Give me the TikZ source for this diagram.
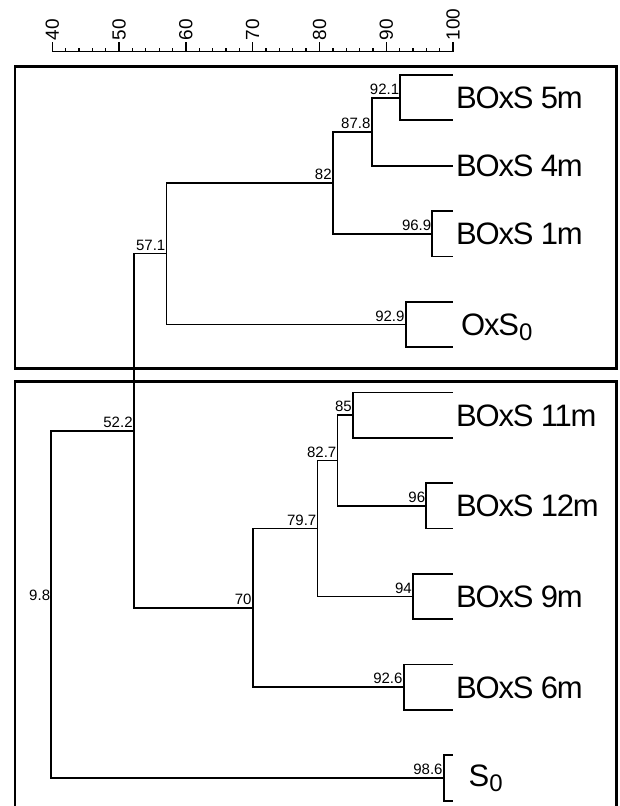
\documentclass[tikz,border=0pt]{standalone}
\usepackage{fontspec}
\setmainfont{Liberation Sans}
\newfontfamily\labfont[LetterSpace=-4]{Liberation Sans}
\newcommand\vx[1]{52.3+(#1-40)*6.68}
\begin{document}
\begin{tikzpicture}[x=1pt,y=-1pt,
  tree/.style={line width=1.8pt},
  frame/.style={line width=2.8pt},
  ruler/.style={line width=1.3pt},
  val/.style={font=\fontsize{15}{15}\selectfont, anchor=south east, inner sep=1pt, yshift=2pt},
  leaflab/.style={font=\labfont\fontsize{31}{32}\selectfont, anchor=base west, inner sep=0pt, yshift=-11pt},
  ticklab/.style={font=\fontsize{19}{19}\selectfont, rotate=90, anchor=west, inner sep=0pt}]
\clip (0,0) rectangle (619,806);
\fill[white] (0,0) rectangle (619,806);
% ruler
\draw[ruler] ({\vx{40}},51.7) -- ({\vx{100}},51.7);
\foreach \v in {42,44,...,98} {\draw[ruler] ({\vx{\v}},51.7) -- ++(0,-4);}
\foreach \v in {40,50,...,100} {
  \draw[ruler] ({\vx{\v}},51.7) -- ++(0,-10);
  \node[ticklab] at ({\vx{\v}},40.5) {\v};
}
% frames
\draw[frame] (15,66.7) rectangle (616.7,368.3);
\draw[frame] (15,381.7) rectangle (616.7,830);
% leaves
\coordinate (l0) at (453.1,75);
\coordinate (l1) at (453.1,120.35);
\coordinate (l2) at (453.1,165.7);
\coordinate (l3) at (453.1,211.05);
\coordinate (l4) at (453.1,256.4);
\coordinate (l5) at (453.1,301.75);
\coordinate (l6) at (453.1,347.1);
\coordinate (l7) at (453.1,392.45);
\coordinate (l8) at (453.1,437.8);
\coordinate (l9) at (453.1,483.15);
\coordinate (l10) at (453.1,528.5);
\coordinate (l11) at (453.1,573.85);
\coordinate (l12) at (453.1,619.2);
\coordinate (l13) at (453.1,664.55);
\coordinate (l14) at (453.1,709.9);
\coordinate (l15) at (453.1,755.25);
\coordinate (l16) at (453.1,800.6);
% internal nodes
\coordinate (n921) at ({\vx{92.1}},97.675);
\coordinate (n878) at ({\vx{87.8}},131.69);
\coordinate (n969) at ({\vx{96.9}},233.725);
\coordinate (n82) at ({\vx{82}},182.71);
\coordinate (n929) at ({\vx{92.9}},324.425);
\coordinate (n571) at ({\vx{57.1}},253.57);
\coordinate (n85) at ({\vx{85}},415.125);
\coordinate (n96) at ({\vx{96}},505.825);
\coordinate (n827) at ({\vx{82.7}},460.475);
\coordinate (n94) at ({\vx{94}},596.525);
\coordinate (n797) at ({\vx{79.7}},528.5);
\coordinate (n926) at ({\vx{92.6}},687.225);
\coordinate (n70) at ({\vx{70}},607.86);
\coordinate (n522) at ({\vx{52.2}},430.72);
\coordinate (n986) at ({\vx{98.6}},777.925);
\coordinate (n98) at (51.3,604.32);
% branches
\draw[tree] (n921) |- (l0);  \draw[tree] (n921) |- (l1);
\draw[tree] (n878) |- (n921); \draw[tree] (n878) |- (l2);
\draw[tree] (n969) |- (l3);  \draw[tree] (n969) |- (l4);
\draw[tree] (n82) |- (n878); \draw[tree] (n82) |- (n969);
\draw[tree] (n929) |- (l5);  \draw[tree] (n929) |- (l6);
\draw[tree] (n571) |- (n82); \draw[tree] (n571) |- (n929);
\draw[tree] (n85) |- (l7);   \draw[tree] (n85) |- (l8);
\draw[tree] (n96) |- (l9);   \draw[tree] (n96) |- (l10);
\draw[tree] (n827) |- (n85); \draw[tree] (n827) |- (n96);
\draw[tree] (n94) |- (l11);  \draw[tree] (n94) |- (l12);
\draw[tree] (n797) |- (n827); \draw[tree] (n797) |- (n94);
\draw[tree] (n926) |- (l13); \draw[tree] (n926) |- (l14);
\draw[tree] (n70) |- (n797); \draw[tree] (n70) |- (n926);
\draw[tree] (n522) |- (n571); \draw[tree] (n522) |- (n70);
\draw[tree] (n986) |- (l15); \draw[tree] (n986) |- (l16);
\draw[tree] (n98) |- (n522); \draw[tree] (n98) |- (n986);
% values
\node[val] (t921) at (n921) {92.1};
\node[val] (t878) at (n878) {87.8};
\node[val] (t82) at (n82) {82};
\node[val] (t969) at (n969) {96.9};
\node[val] (t571) at (n571) {57.1};
\node[val] (t929) at (n929) {92.9};
\node[val] (t85) at (n85) {85};
\node[val] (t827) at (n827) {82.7};
\node[val] (t96) at (n96) {96};
\node[val] (t797) at (n797) {79.7};
\node[val] (t94) at (n94) {94};
\node[val] (t70) at (n70) {70};
\node[val] (t926) at (n926) {92.6};
\node[val] (t522) at (n522) {52.2};
\node[val] (t986) at (n986) {98.6};
\node[val] (t98) at (n98) {9.8};
% leaf labels
\node[leaflab] (a5) at (456,97.675) {BOxS 5m};
\node[leaflab] (a4) at (456,165.7) {BOxS 4m};
\node[leaflab] (a1) at (456,233.725) {BOxS 1m};
\node[leaflab] (ao) at (461,324.425) {OxS\raisebox{-5pt}{\fontsize{24}{24}\selectfont 0}};
\node[leaflab] (a11) at (456,415.125) {BOxS 11m};
\node[leaflab] (a12) at (456,505.825) {BOxS 12m};
\node[leaflab] (a9) at (456,596.525) {BOxS 9m};
\node[leaflab] (a6) at (456,687.225) {BOxS 6m};
\node[leaflab] (as) at (468.5,775.5) {S\raisebox{-5pt}{\fontsize{24}{24}\selectfont 0}};
\end{tikzpicture}
\end{document}
